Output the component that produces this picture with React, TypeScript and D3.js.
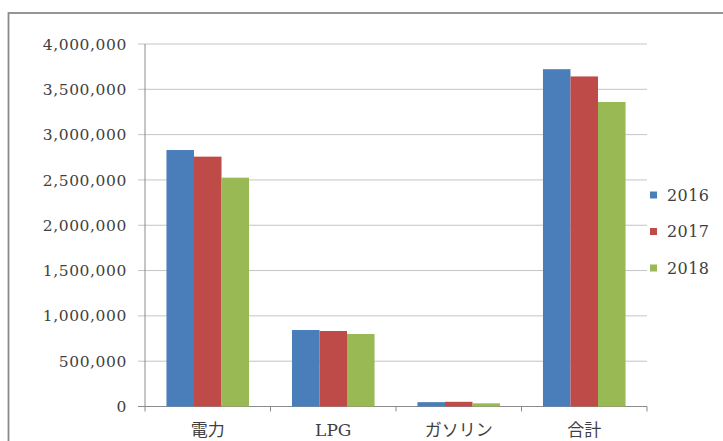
import * as d3 from "d3";

const CATEGORIES = ["電力", "LPG", "ガソリン", "合計"];
const YEARS = ["2016", "2017", "2018"];
const V2016 = [2830000, 844000, 48000, 3722000];
const V2017 = [2757000, 833000, 52000, 3642000];
const V2018 = [2525000, 800000, 35000, 3360000];
const Y_TICKS = [0, 500000, 1000000, 1500000, 2000000, 2500000, 3000000, 3500000, 4000000];

const COLORS = ["#4a7ebb", "#be4b48", "#98b954"];
const SERIF = "DejaVu Serif, Noto Sans CJK JP, serif";

export default function App() {
  const W = 723, H = 441;
  const plot = { left: 145, right: 647, top: 44, bottom: 406.5 };
  const series = [V2016, V2017, V2018];

  const x = d3.scaleBand().domain(CATEGORIES).range([plot.left, plot.right]);
  // excel-style gap width: ~150% of a bar on the outside
  const inner = d3.scaleBand().domain(YEARS)
    .range([0, x.bandwidth()])
    .paddingOuter(0.78)
    .paddingInner(0);
  const y = d3.scaleLinear().domain([0, 4000000]).range([plot.bottom, plot.top]);
  const fmt = d3.format(",");

  const boundaries = [...CATEGORIES.map((c) => x(c)!), plot.right];

  return (
    <svg width={W} height={H} style={{ position: "absolute", left: 0, top: 0, background: "#fff" }}>
      {/* outer chart border */}
      <rect x={8.5} y={13} width={740} height={460} fill="#fff" stroke="#8a8a8a" strokeWidth={1.8} />

      {/* gridlines + y ticks */}
      {Y_TICKS.map((t) => (
        <g key={t}>
          <line x1={plot.left - 7} x2={plot.right} y1={y(t)} y2={y(t)}
            stroke={t === 0 ? "#8c8c8c" : "#c4c4c4"} strokeWidth={1} />
          <text x={127} y={y(t)} dy="0.36em" textAnchor="end" fontFamily={SERIF}
            fontSize={15.5} fill="#3f3f3f" letterSpacing={0.6}>
            {fmt(t)}
          </text>
        </g>
      ))}
      <line x1={plot.left} x2={plot.left} y1={plot.top} y2={plot.bottom} stroke="#8c8c8c" />

      {/* category ticks */}
      {boundaries.map((b, i) => (
        <line key={i} x1={b} x2={b} y1={plot.bottom} y2={plot.bottom + 5} stroke="#8c8c8c" />
      ))}

      {/* bars */}
      {CATEGORIES.map((c, ci) => (
        <g key={c} transform={`translate(${x(c)},0)`}>
          {series.map((s, si) => (
            <rect key={si} x={inner(YEARS[si])} width={inner.bandwidth()}
              y={y(s[ci])} height={plot.bottom - y(s[ci])} fill={COLORS[si]} />
          ))}
        </g>
      ))}

      {/* category labels */}
      {CATEGORIES.map((c) => (
        <text key={c} x={x(c)! + x.bandwidth() / 2} y={435.5} textAnchor="middle"
          fontFamily={SERIF} fontSize={17} fill="#3f3f3f">
          {c}
        </text>
      ))}

      {/* legend */}
      {YEARS.map((yr, i) => (
        <g key={yr} transform={`translate(650,${195 + i * 36.5})`}>
          <rect x={0} y={-3.5} width={7} height={7} fill={COLORS[i]} />
          <text x={17} y={0} dy="0.36em" fontFamily={SERIF} fontSize={16} fill="#3f3f3f" letterSpacing={0.4}>
            {yr}
          </text>
        </g>
      ))}
    </svg>
  );
}
